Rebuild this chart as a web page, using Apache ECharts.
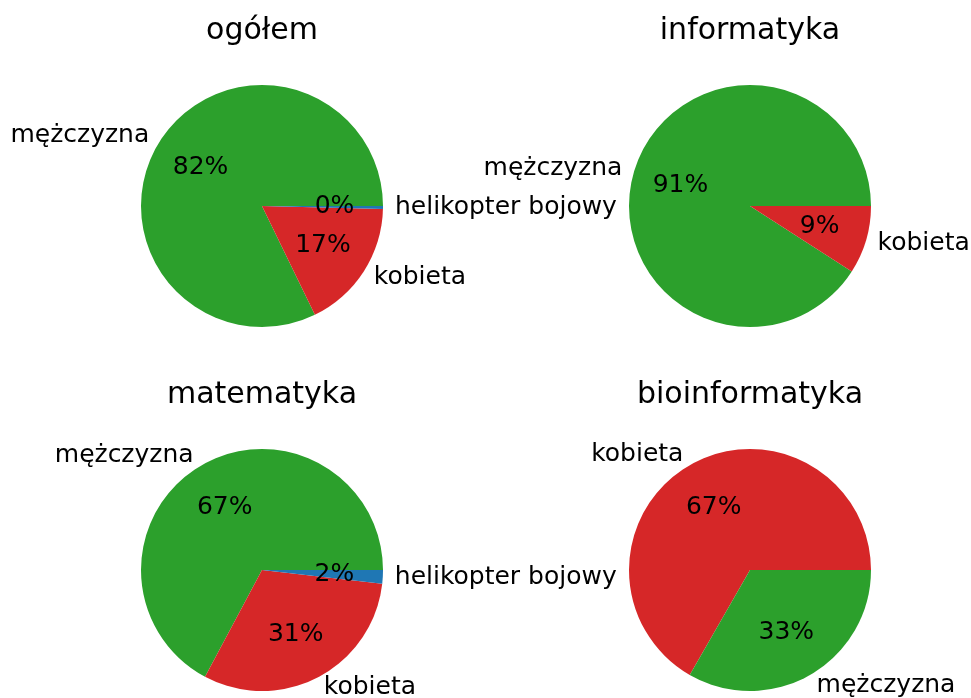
<!DOCTYPE html>
<html>
<head>
<meta charset="utf-8">
<script src="https://cdn.jsdelivr.net/npm/echarts@6/dist/echarts.min.js"></script>
<style>
html,body{margin:0;padding:0;background:#fff;}
#chart{width:971px;height:698px;}
</style>
</head>
<body>
<div id="chart"></div>
<script>
// ---- data ----
const titles = ['ogółem', 'informatyka', 'matematyka', 'bioinformatyka'];
const ogolemNames = ['mężczyzna', 'kobieta', 'helikopter bojowy'];
const ogolemValues = [82.2, 17.4, 0.4];
const informatykaNames = ['mężczyzna', 'kobieta'];
const informatykaValues = [90.9, 9.1];
const matematykaNames = ['mężczyzna', 'kobieta', 'helikopter bojowy'];
const matematykaValues = [67.2, 31.0, 1.8];
const bioinformatykaNames = ['kobieta', 'mężczyzna'];
const bioinformatykaValues = [66.7, 33.3];

const colorMap = {
  'mężczyzna': '#2ca02c',
  'kobieta': '#d62728',
  'helikopter bojowy': '#1f77b4'
};

const pies = [
  { names: ogolemNames, values: ogolemValues },
  { names: informatykaNames, values: informatykaValues },
  { names: matematykaNames, values: matematykaValues },
  { names: bioinformatykaNames, values: bioinformatykaValues }
];

const centers = [[262, 206], [750, 206], [262, 570], [750, 570]];
const R = 121;
const FONT = 'DejaVu Sans';

const series = [];
const title = [];
pies.forEach((p, i) => {
  const data = p.names.map((n, k) => ({ name: n, value: p.values[k], itemStyle: { color: colorMap[n] } }));
  series.push({
    type: 'pie',
    center: centers[i],
    radius: [0, R],
    startAngle: 0,
    clockwise: false,
    avoidLabelOverlap: false,
    silent: true,
    itemStyle: { borderWidth: 0 },
    label: {
      show: true,
      position: 'outside',
      formatter: '{b}',
      fontFamily: FONT,
      fontSize: 25,
      color: '#000',
      distanceToLabelLine: 0
    },
    labelLine: { show: false, length: 12, length2: 0 },
    emphasis: { disabled: true },
    data: data
  });
  series.push({
    type: 'pie',
    center: centers[i],
    radius: [18, R],
    startAngle: 0,
    clockwise: false,
    avoidLabelOverlap: false,
    silent: true,
    itemStyle: { color: 'rgba(0,0,0,0)', borderWidth: 0 },
    label: {
      show: true,
      position: 'inside',
      formatter: (q) => Math.round(q.percent) + '%',
      fontFamily: FONT,
      fontSize: 25,
      color: '#000'
    },
    labelLine: { show: false },
    emphasis: { disabled: true },
    data: p.names.map((n, k) => ({ name: n, value: p.values[k] }))
  });
  title.push({
    text: titles[i],
    left: centers[i][0],
    top: centers[i][1] - 190,
    padding: 0,
    textAlign: 'center',
    textStyle: { fontFamily: FONT, fontSize: 30, fontWeight: 'normal', color: '#000' }
  });
});

const chart = echarts.init(document.getElementById('chart'), null, { renderer: 'canvas' });
chart.setOption({
  animation: false,
  backgroundColor: '#fff',
  title: title,
  series: series
});
</script>
</body>
</html>
